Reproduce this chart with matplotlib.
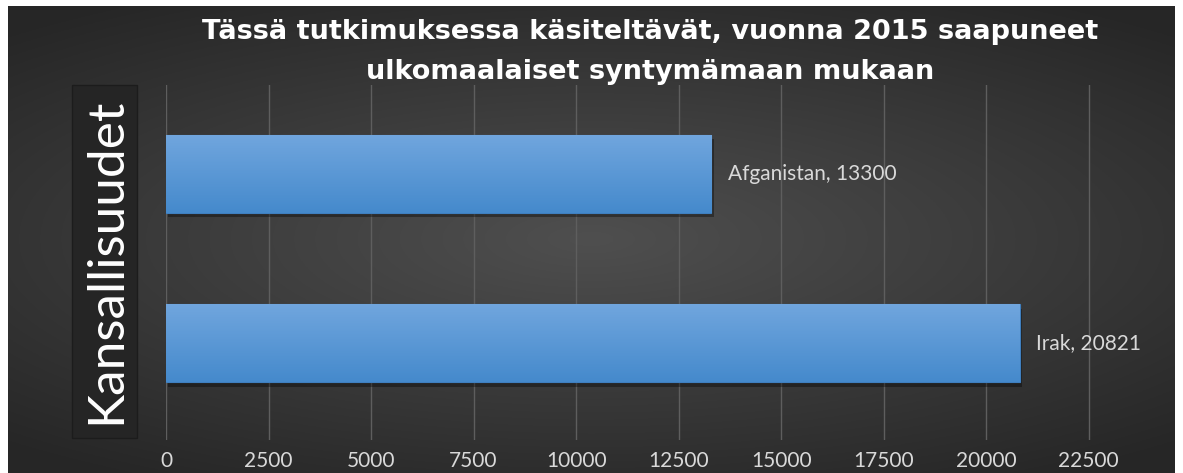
"""Horizontal bar chart: foreign arrivals in 2015 by country of birth."""

import matplotlib

matplotlib.use("Agg")
import matplotlib.pyplot as plt
import numpy as np
from matplotlib.patches import FancyBboxPatch

countries = ["Irak", "Afganistan"]
arrivals = [20821, 13300]
x_ticks = [0, 2500, 5000, 7500, 10000, 12500, 15000, 17500, 20000, 22500]

title_lines = ["Tässä tutkimuksessa käsiteltävät, vuonna 2015 saapuneet",
               "ulkomaalaiset syntymämaan mukaan"]
ylabel = "Kansallisuudet"

plt.rcParams["font.family"] = ["Lato", "DejaVu Sans"]

fig = plt.figure(figsize=(11.83, 4.73), dpi=100)
fig.patch.set_facecolor("white")

# dark background with a soft radial glow
bg = fig.add_axes([8 / 1183, 0, 1167 / 1183, 1 - 6 / 473])
bg.set_axis_off()
yy, xx = np.mgrid[-1:1:300j, -1:1:700j]
dist = np.sqrt((xx * 0.9) ** 2 + (yy * 1.1) ** 2)
shade = np.clip(0.31 - 0.12 * dist, 0.15, 0.31)
bg.imshow(np.dstack([shade, shade, shade]), aspect="auto", extent=[0, 1, 0, 1])

ax = fig.add_axes([166 / 1183, 1 - 440 / 473, 976 / 1183, 355 / 473])
ax.set_facecolor("none")
ax.set_xlim(0, 23800)
ax.set_ylim(-0.57, 1.525)

ypos = np.arange(len(countries))
bars = ax.barh(ypos, arrivals, height=0.46, color="#5b9bd5", edgecolor="#3f7fbf",
               linewidth=0.8, zorder=3)

# vertical gradient inside each bar
grad = np.linspace(0, 1, 100).reshape(-1, 1)
top = np.array([0.44, 0.65, 0.87])
bottom = np.array([0.27, 0.54, 0.80])
colors = bottom + (top - bottom) * grad[..., None]
for bar in bars:
    x0, y0 = bar.get_x(), bar.get_y()
    w, h = bar.get_width(), bar.get_height()
    ax.imshow(colors, aspect="auto", extent=[x0, x0 + w, y0, y0 + h],
              origin="lower", zorder=4, clip_path=bar, clip_on=True)
    ax.add_patch(plt.Rectangle((x0 + 60, y0 - 0.025), w, h, color="black",
                               alpha=0.35, zorder=2, linewidth=0))

for y, name, value in zip(ypos, countries, arrivals):
    ax.text(value + 400, y, f"{name}, {value}", color="#d9d9d9", fontsize=15,
            va="center", ha="left", zorder=5)

ax.set_xticks(x_ticks)
ax.set_xticklabels([str(t) for t in x_ticks])
ax.set_yticks([])
ax.tick_params(axis="x", length=0, pad=8, colors="#d9d9d9", labelsize=15)
ax.grid(axis="x", color="#5e5e5e", linewidth=1.0, zorder=1)
ax.set_axisbelow(True)
for spine in ax.spines.values():
    spine.set_visible(False)

# title drawn line by line to match the original spacing
for line, y_px in zip(title_lines, [32, 72]):
    fig.text(650 / 1183, 1 - y_px / 473, line, ha="center", va="center", color="white",
             fontsize=19.5, fontweight="bold", family=["DejaVu Sans"])

# boxed vertical axis title
box = FancyBboxPatch((72 / 1183, 1 - 438 / 473), 65 / 1183, 353 / 473,
                     boxstyle="square,pad=0", transform=fig.transFigure,
                     facecolor="#252525", edgecolor="#1c1c1c", linewidth=1.0, zorder=2)
fig.patches.append(box)
fig.text(106 / 1183, 1 - 261 / 473, ylabel, rotation=90, ha="center", va="center",
         color="white", fontsize=37, zorder=3)

fig.savefig("out.png", dpi=100, facecolor=fig.get_facecolor())
